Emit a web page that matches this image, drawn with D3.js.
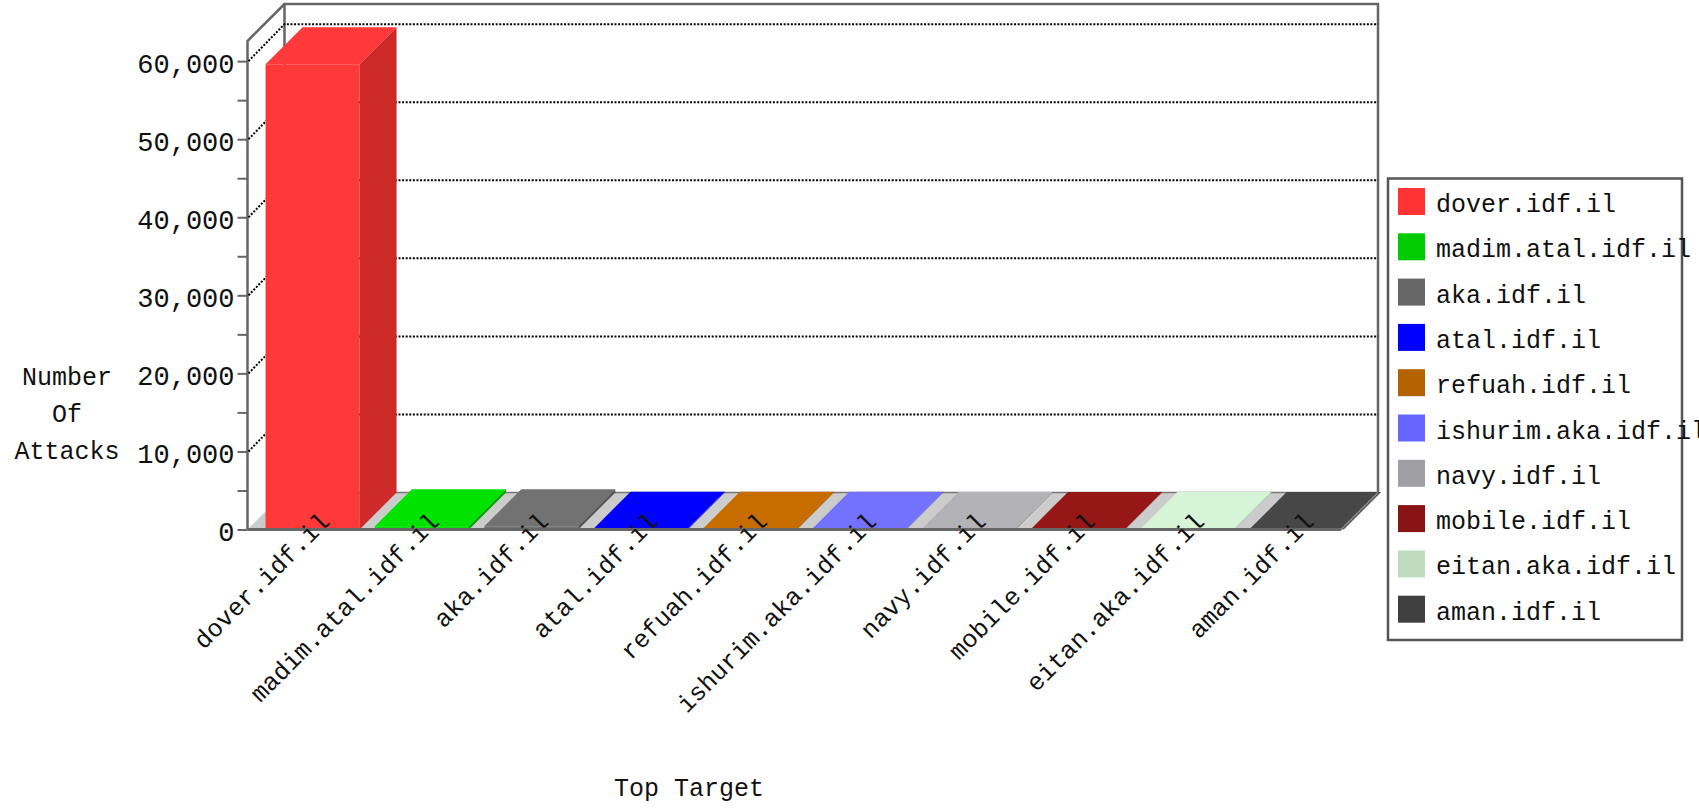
<!DOCTYPE html>
<html>
<head>
<meta charset="utf-8">
<script src="https://cdn.jsdelivr.net/npm/d3@7"></script>
<style>
  body { margin: 0; background: #fff; }
  svg { display: block; font-family: 'Liberation Mono', 'Courier New', monospace; }
</style>
</head>
<body>
<svg width="1699" height="811"></svg>
<script>
const targets = ['dover.idf.il', 'madim.atal.idf.il', 'aka.idf.il', 'atal.idf.il', 'refuah.idf.il',
  'ishurim.aka.idf.il', 'navy.idf.il', 'mobile.idf.il', 'eitan.aka.idf.il', 'aman.idf.il'];
const attacks = [59600, 420, 410, 110, 100, 90, 80, 70, 60, 50];
const colors = ['#ff3333', '#00cc00', '#666666', '#0000ff', '#b36200',
  '#6666ff', '#a0a0a4', '#881414', '#c0dcc0', '#404040'];
const yTicks = d3.range(0, 60001, 5000);
const yLabels = [0, 10000, 20000, 30000, 40000, 50000, 60000];
const yTitle = ['Number', 'Of', 'Attacks'];
const xTitle = 'Top Target';

const svg = d3.select('svg');
const plotLeft = 247.5, plotRight = 1341, plotBase = 529.5, plotTop = 41;
const depth = 37;
const wallColor = '#666';

const xScale = d3.scaleBand()
  .domain(targets)
  .range([plotLeft, plotRight]);

const yScale = d3.scaleLinear()
  .domain([0, d3.max(attacks) * 1.05])
  .range([plotBase, plotTop]);

// floor
svg.append('polygon')
  .attr('points', [[plotLeft, plotBase], [plotRight, plotBase], [plotRight + depth, plotBase - depth], [plotLeft + depth, plotBase - depth]].join(' '))
  .attr('fill', '#cccccc');
svg.append('line')
  .attr('x1', plotLeft + depth).attr('x2', plotRight + depth)
  .attr('y1', plotBase - depth).attr('y2', plotBase - depth)
  .attr('stroke', '#777').attr('stroke-width', 1.5);

// back wall + side wall outline
svg.append('path')
  .attr('d', `M${plotLeft + depth},${plotBase - depth}V${plotTop - depth}H${plotRight + depth}V${plotBase - depth}`)
  .attr('fill', 'none').attr('stroke', wallColor).attr('stroke-width', 2.5);
svg.append('path')
  .attr('d', `M${plotLeft},${plotBase}V${plotTop}L${plotLeft + depth},${plotTop - depth}`)
  .attr('fill', 'none').attr('stroke', wallColor).attr('stroke-width', 2.5);

// grid lines on the walls
svg.append('g')
  .selectAll('path')
  .data(yLabels.filter(d => d > 0))
  .enter()
  .append('path')
  .attr('d', d => `M${plotLeft + 1},${yScale(d)}L${plotLeft + depth},${yScale(d) - depth}H${plotRight + depth}`)
  .attr('fill', 'none')
  .attr('stroke', '#000')
  .attr('stroke-width', 2)
  .attr('stroke-dasharray', '2,1.6');

// bars
const bw = xScale.bandwidth();
const bars = svg.append('g')
  .selectAll('g')
  .data(targets)
  .enter()
  .append('g');

bars.each(function (t, i) {
  const g = d3.select(this);
  const x0 = xScale(t) + bw * 0.165;
  const x1 = x0 + bw * 0.86;
  const yt = yScale(attacks[i]);
  const face = d3.color(colors[i]).brighter(0.3);
  const side = d3.color(colors[i]).darker(0.6);
  g.append('rect')
    .attr('x', x0).attr('y', yt)
    .attr('width', x1 - x0).attr('height', plotBase - yt)
    .attr('fill', face);
  g.append('polygon')
    .attr('points', [[x0, yt], [x1, yt], [x1 + depth, yt - depth], [x0 + depth, yt - depth]].join(' '))
    .attr('fill', face);
  g.append('polygon')
    .attr('points', [[x1, yt], [x1 + depth, yt - depth], [x1 + depth, plotBase - depth], [x1, plotBase]].join(' '))
    .attr('fill', side);
});

// floor front + right edge
svg.append('line')
  .attr('x1', plotLeft).attr('x2', plotRight)
  .attr('y1', plotBase).attr('y2', plotBase)
  .attr('stroke', wallColor).attr('stroke-width', 3);
svg.append('line')
  .attr('x1', plotRight).attr('x2', plotRight + depth)
  .attr('y1', plotBase).attr('y2', plotBase - depth)
  .attr('stroke', '#888').attr('stroke-width', 1.5);

// y axis
const yAxis = svg.append('g')
  .attr('transform', `translate(${plotLeft}, 0)`)
  .call(d3.axisLeft(yScale)
    .tickValues(yTicks)
    .tickSize(10)
    .tickPadding(3)
    .tickFormat(d => yLabels.includes(d) ? d3.format(',')(d) : ''));
yAxis.select('.domain').remove();
yAxis.selectAll('line').attr('stroke', wallColor).attr('stroke-width', 2);
yAxis.selectAll('text')
  .attr('font-family', "'Liberation Mono', monospace")
  .attr('font-size', 27)
  .attr('fill', '#111')
  .attr('dy', '0.41em');

// x labels (they sit over the bar bases, like the original)
svg.append('g')
  .selectAll('text')
  .data(targets)
  .enter()
  .append('text')
  .attr('transform', d => `translate(${xScale(d) + bw / 2 + 29}, 523) rotate(-45)`)
  .attr('text-anchor', 'end')
  .attr('font-size', 25)
  .attr('fill', '#111')
  .text(d => d);

// axis titles
svg.append('g')
  .selectAll('text')
  .data(yTitle)
  .enter()
  .append('text')
  .attr('x', 67)
  .attr('y', (d, i) => 385 + i * 37)
  .attr('text-anchor', 'middle')
  .attr('font-size', 25)
  .attr('fill', '#111')
  .text(d => d);

svg.append('text')
  .attr('x', 689).attr('y', 796)
  .attr('text-anchor', 'middle')
  .attr('font-size', 25)
  .attr('fill', '#111')
  .text(xTitle);

// legend
const legend = svg.append('g');
legend.append('rect')
  .attr('x', 1388).attr('y', 178.5)
  .attr('width', 294).attr('height', 461.5)
  .attr('fill', '#fff')
  .attr('stroke', '#555').attr('stroke-width', 2.5);

const items = legend.selectAll('g.item')
  .data(targets)
  .enter()
  .append('g')
  .attr('class', 'item')
  .attr('transform', (d, i) => `translate(0, ${i * 45.3})`);
items.append('rect')
  .attr('x', 1398).attr('y', 188)
  .attr('width', 27).attr('height', 27)
  .attr('fill', (d, i) => colors[i]);
items.append('text')
  .attr('x', 1436).attr('y', 212)
  .attr('font-size', 25)
  .attr('fill', '#111')
  .text(d => d);
</script>
</body>
</html>
